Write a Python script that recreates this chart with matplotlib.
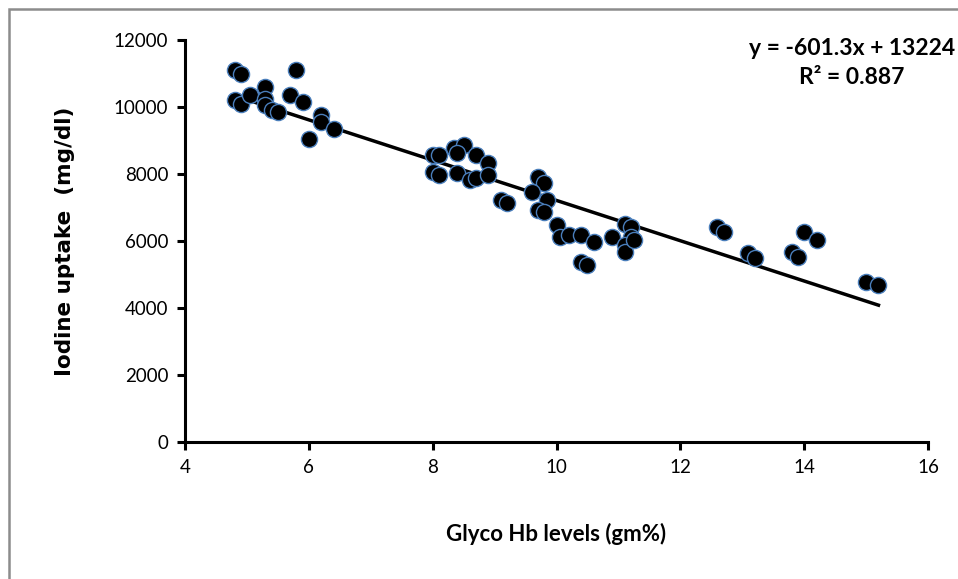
"""Scatter of iodine uptake vs glyco Hb levels with linear trend line"""

import matplotlib

matplotlib.use("Agg")

import matplotlib.pyplot as plt
import numpy as np
from matplotlib.patches import Rectangle

# Glyco Hb levels (gm%)
glyco_hb = [
    4.8, 4.9, 5.8, 4.8, 4.9, 5.05, 5.3, 5.3, 5.3, 5.4, 5.5, 5.7, 5.9, 6.2, 6.2,
    6.4, 6.0,
    8.0, 8.1, 8.35, 8.5, 8.4, 8.7, 8.9, 8.0, 8.1, 8.4, 8.6, 8.7, 8.9, 9.1, 9.2,
    9.7, 9.8, 9.6, 9.85, 9.7, 9.8, 10.0, 10.05, 10.2, 10.4, 10.6, 10.4, 10.5,
    10.9, 11.1, 11.2, 11.2, 11.1, 11.1, 11.25,
    12.6, 12.7, 13.1, 13.2, 13.8, 13.9, 14.0, 14.2, 15.0, 15.2,
]
# Iodine uptake (mg/dl)
iodine = [
    11100, 10980, 11100, 10200, 10100, 10350, 10600, 10250, 10050, 9900, 9850,
    10350, 10150, 9750, 9550, 9330, 9050,
    8580, 8560, 8770, 8870, 8620, 8570, 8320, 8070, 7970, 8020, 7820, 7870,
    7970, 7220, 7120,
    7900, 7720, 7470, 7220, 6920, 6870, 6470, 6130, 6180, 6180, 5980, 5380,
    5280, 6130, 6520, 6430, 6130, 5880, 5680, 6030,
    6420, 6280, 5630, 5480, 5680, 5530, 6280, 6030, 4790, 4690,
]

# Excel trend line
slope = -601.3
intercept = 13224
r_squared = 0.887

x_ticks = [4, 6, 8, 10, 12, 14, 16]
y_ticks = [0, 2000, 4000, 6000, 8000, 10000, 12000]

plt.rcParams["font.family"] = ["Lato", "DejaVu Sans"]

fig = plt.figure(figsize=(9.58, 5.79), dpi=100)
ax = fig.add_axes([185 / 958, 1 - 442 / 579, 743 / 958, 402 / 579])

# grey outer frame, cut off at the right and bottom like the source image
fig.patches.append(
    Rectangle(
        (9 / 958, -0.1), 1.2, 1 - 9 / 579 + 0.1,
        transform=fig.transFigure, fill=False, edgecolor="#8c8c8c", linewidth=1.8,
    )
)

ax.scatter(
    glyco_hb, iodine, s=135, c="black", edgecolors="#4a7ebb", linewidths=1.0,
    zorder=3,
)

xs = np.array([min(glyco_hb), max(glyco_hb)])
ax.plot(xs, slope * xs + intercept, color="black", linewidth=2.5, zorder=2)

ax.set_xlim(4, 16)
ax.set_ylim(0, 12000)
ax.set_xticks(x_ticks)
ax.set_yticks(y_ticks)

for side in ["top", "right"]:
    ax.spines[side].set_visible(False)
for side in ["left", "bottom"]:
    ax.spines[side].set_linewidth(2.2)
ax.tick_params(direction="out", length=6, width=2.2, labelsize=13.5, pad=6)

ax.set_xlabel("Glyco Hb levels (gm%)", fontsize=16, fontweight="bold", labelpad=34)
ax.set_ylabel(
    "Iodine uptake  (mg/dl)", fontsize=15.5, fontweight="bold", labelpad=28,
    family="DejaVu Sans",
)

fig.text(
    852 / 958, 1 - 63 / 579,
    f"y = {slope}x + {intercept}\nR\u00b2 = {r_squared}",
    ha="center", va="center", fontsize=16.5, fontweight="bold", linespacing=1.5,
)

fig.savefig("out.png", dpi=100)
